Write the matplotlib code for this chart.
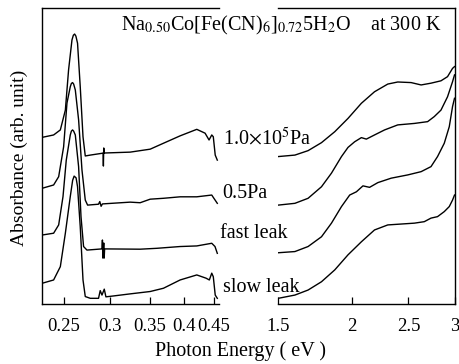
import matplotlib
matplotlib.use('Agg')
import matplotlib.pyplot as plt
from matplotlib.ticker import FixedLocator, NullLocator

plt.rcParams['font.family'] = ['Liberation Serif', 'DejaVu Serif']
plt.rcParams['mathtext.fontset'] = 'stix'
plt.rcParams['mathtext.default'] = 'rm'

# ---- IR part (CN stretching region), photon energy in eV ----
e_ir_atm = [0.2300, 0.2404, 0.2468, 0.2517, 0.2549, 0.2583, 0.2597, 0.2610, 0.2623, 0.2640,
            0.2668, 0.2697, 0.2721, 0.2775, 0.2905, 0.2918, 0.2921, 0.2925, 0.2930, 0.3244,
            0.3373, 0.3508, 0.3695, 0.3944, 0.4210, 0.4349, 0.4417, 0.4464, 0.4491, 0.4525,
            0.4562]
a_ir_atm = [5.63, 5.71, 5.88, 6.55, 7.91, 8.92, 9.08, 9.12, 9.05, 8.81,
            7.34, 5.65, 5.00, 5.03, 5.09, 5.10, 4.66, 5.27, 5.10, 5.13,
            5.18, 5.23, 5.43, 5.68, 5.90, 5.77, 5.54, 5.71, 5.65, 5.03,
            4.86]

e_ir_vac = [0.2300, 0.2404, 0.2452, 0.2500, 0.2533, 0.2566, 0.2577, 0.2589, 0.2600, 0.2617,
            0.2651, 0.2686, 0.2721, 0.2746, 0.2866, 0.2880, 0.2895, 0.2910, 0.3244, 0.3373,
            0.3508, 0.3695, 0.3944, 0.4210, 0.4464, 0.4491, 0.4562]
a_ir_vac = [3.91, 4.02, 4.30, 5.31, 6.79, 7.34, 7.45, 7.48, 7.43, 7.23,
            6.22, 4.53, 3.51, 3.34, 3.37, 3.46, 3.30, 3.38, 3.44, 3.42,
            3.54, 3.57, 3.62, 3.62, 3.68, 3.60, 3.40]

e_ir_fast = [0.2300, 0.2404, 0.2452, 0.2494, 0.2526, 0.2566, 0.2577, 0.2589, 0.2600, 0.2617,
             0.2651, 0.2676, 0.2703, 0.2739, 0.2905, 0.2910, 0.2915, 0.2925, 0.2930, 0.2935,
             0.3373, 0.3601, 0.3944, 0.4210, 0.4464, 0.4521, 0.4562]
a_ir_fast = [2.33, 2.39, 2.67, 3.63, 4.86, 5.71, 5.84, 5.88, 5.84, 5.71,
             4.64, 2.95, 1.94, 1.82, 1.86, 2.16, 1.55, 2.06, 1.55, 1.86,
             1.85, 1.88, 1.94, 1.96, 2.05, 1.94, 1.71]

e_ir_slow = [0.2300, 0.2404, 0.2468, 0.2517, 0.2566, 0.2590, 0.2605, 0.2625, 0.2640, 0.2668,
             0.2697, 0.2721, 0.2775, 0.2866, 0.2885, 0.2905, 0.2931, 0.2950, 0.3039, 0.3244,
             0.3508, 0.3695, 0.3944, 0.4210, 0.4366, 0.4422, 0.4464, 0.4491, 0.4525, 0.4562]
a_ir_slow = [0.70, 0.81, 1.26, 2.39, 3.63, 4.18, 4.32, 4.26, 3.96, 2.61,
             0.81, 0.25, 0.19, 0.19, 0.45, 0.30, 0.50, 0.24, 0.27, 0.34,
             0.42, 0.53, 0.81, 0.98, 0.87, 0.81, 1.04, 0.92, 0.30, 0.19]

# ---- visible part ----
e_vis_atm = [1.500, 1.601, 1.686, 1.777, 1.872, 1.972, 2.078, 2.188, 2.305, 2.397,
             2.526, 2.627, 2.731, 2.840, 2.914, 2.972, 2.995]
a_vis_atm = [4.98, 5.03, 5.18, 5.45, 5.82, 6.27, 6.78, 7.17, 7.43, 7.50,
             7.48, 7.40, 7.46, 7.54, 7.68, 7.96, 8.02]

e_vis_vac = [1.500, 1.601, 1.686, 1.777, 1.848, 1.922, 1.972, 2.024, 2.078, 2.119,
             2.188, 2.276, 2.397, 2.559, 2.695, 2.766, 2.840, 2.914, 2.972, 2.995]
a_vis_vac = [3.34, 3.40, 3.57, 3.96, 4.42, 4.98, 5.29, 5.48, 5.62, 5.57,
             5.71, 5.88, 6.05, 6.10, 6.16, 6.33, 6.55, 7.00, 7.51, 7.74]

e_vis_fast = [1.500, 1.601, 1.686, 1.777, 1.848, 1.922, 1.985, 2.038, 2.091, 2.146,
              2.217, 2.336, 2.493, 2.627, 2.731, 2.802, 2.877, 2.934, 2.972, 2.995]
a_vis_fast = [1.73, 1.77, 1.94, 2.27, 2.73, 3.29, 3.68, 3.79, 3.99, 3.94,
              4.10, 4.25, 4.36, 4.47, 4.64, 4.98, 5.43, 5.99, 6.67, 6.95]

e_vis_slow = [1.500, 1.601, 1.686, 1.777, 1.872, 1.972, 2.078, 2.188, 2.305, 2.429,
              2.559, 2.660, 2.731, 2.802, 2.877, 2.934, 2.972, 2.995]
a_vis_slow = [0.19, 0.30, 0.47, 0.75, 1.15, 1.66, 2.10, 2.50, 2.67, 2.70,
              2.73, 2.78, 2.90, 2.95, 3.12, 3.29, 3.51, 3.68]

ir_ticks = [0.25, 0.3, 0.35, 0.4, 0.45]
ir_ticklabels = ['0.25', '0.3', '0.35', '0.4', '0.45']
vis_ticks = [1.5, 2, 2.5, 3]
vis_ticklabels = ['1.5', '2', '2.5', '3']
labels = [r'1.0$\times$10$^5$Pa', '0.5Pa', 'fast leak', 'slow leak']

fig = plt.figure(figsize=(4.6, 3.64), dpi=100)
ax1 = fig.add_axes([0.092, 0.165, 0.385, 0.813])
ax2 = fig.add_axes([0.605, 0.165, 0.384, 0.813])

for e, a in [(e_ir_atm, a_ir_atm), (e_ir_vac, a_ir_vac), (e_ir_fast, a_ir_fast), (e_ir_slow, a_ir_slow)]:
    ax1.plot(e, a, color='black', lw=1.0)
for e, a in [(e_vis_atm, a_vis_atm), (e_vis_vac, a_vis_vac), (e_vis_fast, a_vis_fast), (e_vis_slow, a_vis_slow)]:
    ax2.plot(e, a, color='black', lw=1.0)

for ax, ticks, tl, lim in [(ax1, ir_ticks, ir_ticklabels, (0.230, 0.460)),
                           (ax2, vis_ticks, vis_ticklabels, (1.5, 3.0))]:
    ax.set_xscale('log')
    ax.set_xlim(*lim)
    ax.set_ylim(0, 10)
    ax.xaxis.set_major_locator(FixedLocator(ticks))
    ax.xaxis.set_minor_locator(NullLocator())
    ax.set_xticklabels(tl, fontsize=13.5)
    ax.set_yticks([])
    ax.tick_params(axis='x', direction='in', length=5, width=0.9, pad=10)
    for s in ax.spines.values():
        s.set_linewidth(1.0)

ax1.spines['right'].set_visible(False)
ax2.spines['left'].set_visible(False)

# curve labels between the two panels
label_y = [0.602, 0.455, 0.346, 0.198]
label_x = [0.484, 0.484, 0.478, 0.484]
for lab, lx, ly in zip(labels, label_x, label_y):
    fig.text(lx, ly, lab, fontsize=14.5, va='baseline', ha='left')

fig.text(0.264, 0.917, r'Na$_{0.50}$Co[Fe(CN)$_6$]$_{0.72}$5H$_2$O    at 300 K',
         fontsize=14.5, va='baseline', ha='left')

fig.text(0.043, 0.565, 'Absorbance (arb. unit)', rotation=90, fontsize=14,
         ha='center', va='center')
fig.text(0.522, 0.035, 'Photon Energy ( eV )', fontsize=14.5, ha='center', va='center')

fig.savefig('out.png', dpi=100)
